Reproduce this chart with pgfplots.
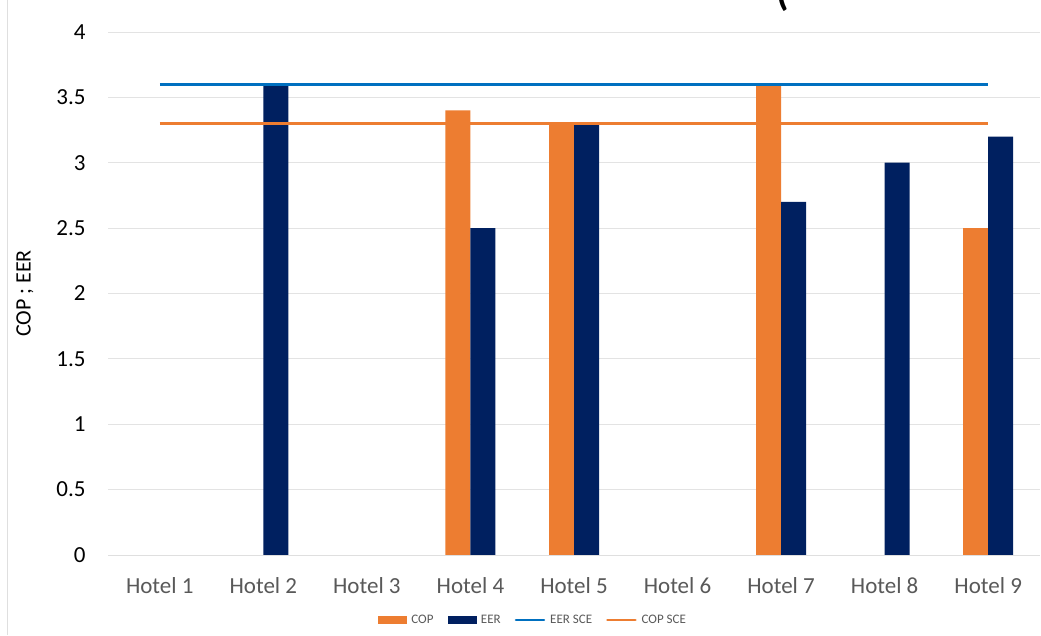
\documentclass[border=0pt]{standalone}
\usepackage{pgfplots}
\pgfplotsset{compat=1.18}
\usepackage{fontspec}
\setmainfont{Carlito}
\definecolor{cop}{HTML}{ED7D31}
\definecolor{eer}{HTML}{002060}
\definecolor{eersce}{HTML}{0070C0}
\definecolor{txtgray}{HTML}{595959}
\begin{document}
\begin{tikzpicture}
\path[use as bounding box] (0pt,0pt) rectangle (1041pt,635pt);
\fill[white] (0pt,0pt) rectangle (1041pt,635pt);
\draw[gray!25, line width=1pt] (7pt,0pt) -- (7pt,635pt);
\node[anchor=south, inner sep=0pt, font=\fontsize{40}{40}\selectfont\bfseries] at (783pt,623pt) {(};
\begin{axis}[
  at={(108pt,80pt)}, anchor=south west,
  scale only axis, width=932pt, height=523pt,
  xmin=-0.5, xmax=8.5, ymin=0, ymax=4,
  ytick={0,0.5,...,4},
  xtick={0,...,8},
  xticklabels={Hotel 1,Hotel 2,Hotel 3,Hotel 4,Hotel 5,Hotel 6,Hotel 7,Hotel 8,Hotel 9},
  axis line style={draw=none},
  axis x line*=bottom,
  axis y line*=left,
  major tick length=0pt,
  ymajorgrids, grid style={gray!22, line width=0.8pt},
  tick label style={font=\fontsize{23}{23}\selectfont},
  /pgf/number format/assume math mode=true,
  yticklabel style={xshift=-19pt, text=black},
  xticklabel style={yshift=-19pt, text=txtgray},
  ylabel={COP ; EER},
  every axis y label/.style={at={(-83pt,0.5)}, rotate=90, anchor=center, font=\fontsize{22}{22}\selectfont},
  legend style={at={(425pt,-65pt)}, anchor=center, draw=none, fill=none,
    legend columns=-1, font=\fontsize{13}{13}\selectfont, text=txtgray,
    /tikz/every odd column/.append style={column sep=3pt},
    /tikz/every even column/.append style={column sep=12pt},
    legend cell align=left},
  clip=false,
]
\addplot[ybar, bar width=25pt, bar shift=-12.5pt, fill=cop, draw=none, forget plot]
  coordinates {(3,3.4) (4,3.3) (6,3.6) (8,2.5)};
\addplot[ybar, bar width=25pt, bar shift=12.5pt, fill=eer, draw=none, forget plot]
  coordinates {(1,3.6) (3,2.5) (4,3.3) (6,2.7) (7,3.0) (8,3.2)};
\draw[gray!25, line width=0.8pt] (axis cs:-0.5,0) -- (axis cs:8.5,0);
\addplot[sharp plot, eersce, line width=3pt, forget plot] coordinates {(0,3.6) (8,3.6)};
\addplot[sharp plot, cop, line width=3pt, forget plot] coordinates {(0,3.3) (8,3.3)};
\addlegendimage{legend image code/.code={\fill[cop] (0pt,-3.5pt) rectangle (28pt,3.5pt);}}
\addlegendentry{COP}
\addlegendimage{legend image code/.code={\fill[eer] (0pt,-3.5pt) rectangle (28pt,3.5pt);}}
\addlegendentry{EER}
\addlegendimage{legend image code/.code={\draw[eersce, line width=2.5pt, line cap=round] (0pt,0pt) -- (28pt,0pt);}}
\addlegendentry{EER SCE}
\addlegendimage{legend image code/.code={\draw[cop, line width=2.5pt, line cap=round] (0pt,0pt) -- (28pt,0pt);}}
\addlegendentry{COP SCE}
\end{axis}
\end{tikzpicture}
\end{document}
